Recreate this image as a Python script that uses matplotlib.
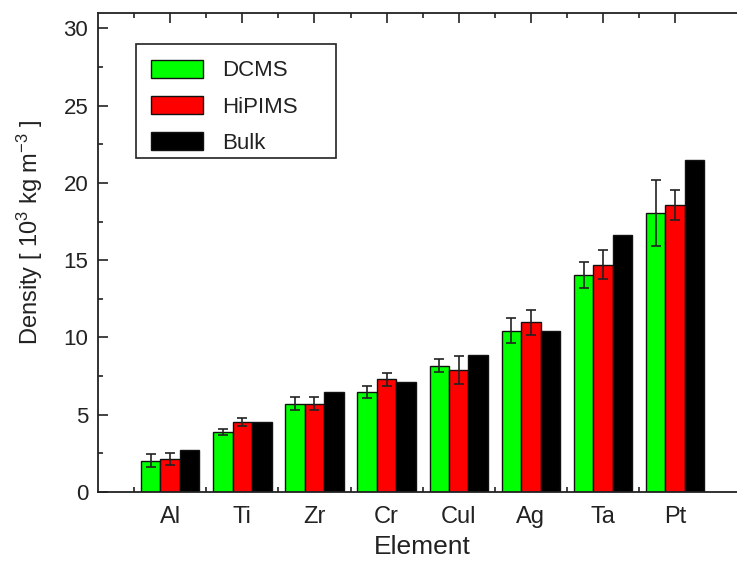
import numpy as np
import matplotlib
matplotlib.use("Agg")
import matplotlib.pyplot as plt
from matplotlib.ticker import MultipleLocator, FixedLocator
from matplotlib.patches import Rectangle

plt.rcParams['font.family'] = ['Liberation Sans', 'DejaVu Sans']
plt.rcParams['mathtext.default'] = 'regular'

# film densities per target element (10^3 kg/m^3)
elements = ['Al', 'Ti', 'Zr', 'Cr', 'Cul', 'Ag', 'Ta', 'Pt']
dcms = [2.03, 3.87, 5.72, 6.44, 8.17, 10.43, 14.06, 18.06]
dcms_err = [0.40, 0.20, 0.40, 0.39, 0.43, 0.81, 0.84, 2.15]
hipims = [2.14, 4.52, 5.72, 7.28, 7.91, 10.97, 14.71, 18.54]
hipims_err = [0.39, 0.25, 0.40, 0.40, 0.92, 0.83, 0.95, 0.97]
bulk = [2.70, 4.52, 6.44, 7.13, 8.86, 10.43, 16.66, 21.50]

ink = '#222222'

fig = plt.figure(figsize=(7.37, 5.61), dpi=100)
ax = fig.add_axes([0.133, 0.123, 0.881, 0.854])

x = np.arange(1, len(elements) + 1)
w = 0.27
err_kw = dict(ecolor=ink, elinewidth=1.2, capsize=3.6, capthick=1.2)

ax.bar(x - w, dcms, w, yerr=dcms_err, color='#00ff00', edgecolor='#111111',
       linewidth=1, label='DCMS', error_kw=err_kw, zorder=2)
ax.bar(x, hipims, w, yerr=hipims_err, color='#ff0000', edgecolor='#111111',
       linewidth=1, label='HiPIMS', error_kw=err_kw, zorder=2)
ax.bar(x + w, bulk, w, color='black', edgecolor='#111111',
       linewidth=1, label='Bulk', zorder=2)

ax.set_xlim(0, 9)
ax.set_ylim(0, 31)
ax.set_xticks(x)
ax.set_xticklabels(elements)
ax.xaxis.set_minor_locator(FixedLocator(x - 0.5))
ax.yaxis.set_major_locator(MultipleLocator(5))
ax.yaxis.set_minor_locator(MultipleLocator(2.5))

for s in ax.spines.values():
    s.set_linewidth(1.3)
    s.set_color(ink)

ax.tick_params(which='both', direction='in', top=True, right=True,
               color=ink, width=1.2, labelsize=16, labelcolor=ink)
ax.tick_params(which='major', length=7, pad=7)
ax.tick_params(axis='x', which='major', pad=10, labelsize=17)
ax.tick_params(which='minor', length=3.6)

ax.set_xlabel('Element', fontsize=19, color=ink, labelpad=5)
ax.set_ylabel('Density [ 10$^3$ kg m$^{-3}$ ]', fontsize=17, color=ink)
ax.yaxis.set_label_coords(-0.082, 0.543)

# legend without its own frame, boxed by a plain rectangle
leg = ax.legend(loc='center left', bbox_to_anchor=(0.0817, 0.804), borderaxespad=0,
                fontsize=16, frameon=False, handlelength=2.34, handleheight=0.86,
                labelspacing=0.66, borderpad=0, handletextpad=0.86)
for t in leg.get_texts():
    t.set_color(ink)
ax.add_patch(Rectangle((0.0586, 0.6973), 0.3081, 0.238, transform=ax.transAxes,
                       fill=False, edgecolor=ink, linewidth=1.2, zorder=5))

fig.savefig('out.png', dpi=100)
